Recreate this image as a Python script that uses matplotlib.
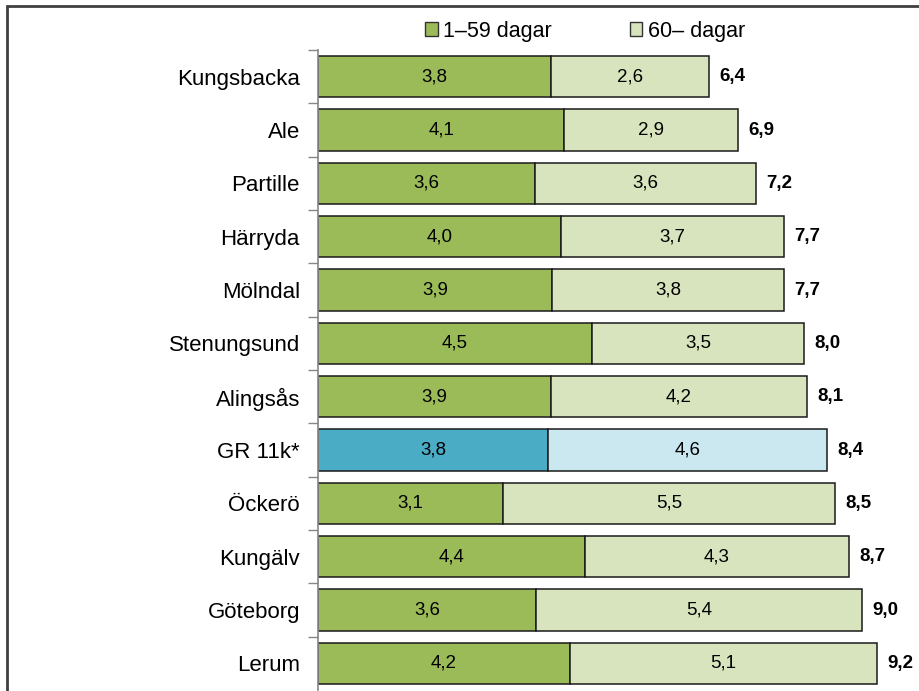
import numpy as np
import matplotlib.pyplot as plt
from matplotlib.patches import Rectangle, Patch

plt.rcParams['font.family'] = ['Liberation Sans', 'DejaVu Sans']

# Data
kommuner = ["Kungsbacka", "Ale", "Partille", "Härryda", "Mölndal", "Stenungsund",
            "Alingsås", "GR 11k*", "Öckerö", "Kungälv", "Göteborg", "Lerum"]
# rounded values as printed
kort = [3.8, 4.1, 3.6, 4.0, 3.9, 4.5, 3.9, 3.8, 3.1, 4.4, 3.6, 4.2]
lang = [2.6, 2.9, 3.6, 3.7, 3.8, 3.5, 4.2, 4.6, 5.5, 4.3, 5.4, 5.1]
totalt = [6.4, 6.9, 7.2, 7.7, 7.7, 8.0, 8.1, 8.4, 8.5, 8.7, 9.0, 9.2]
# unrounded values
kort_exakt = [3.84, 4.06, 3.58, 4.01, 3.86, 4.52, 3.84, 3.79, 3.05, 4.40, 3.59, 4.15]
totalt_exakt = [6.45, 6.92, 7.22, 7.68, 7.68, 8.01, 8.06, 8.39, 8.52, 8.75, 8.97, 9.22]
serier = ["1–59 dagar", "60– dagar"]

fmt = lambda v: f"{v:.1f}".replace(".", ",")

green, lightgreen = "#9BBB59", "#D7E4BD"
blue, lightblue = "#4BACC6", "#CBE7EF"

fig = plt.figure(figsize=(9.2, 6.91), dpi=100)
W, H = 920, 691
ax = fig.add_axes([318 / W, 1 - 690 / H, 594 / W, 640 / H])

y = np.arange(len(kommuner))
lang_exakt = np.array(totalt_exakt) - np.array(kort_exakt)
c1 = [blue if k.startswith("GR") else green for k in kommuner]
c2 = [lightblue if k.startswith("GR") else lightgreen for k in kommuner]

ax.barh(y, kort_exakt, height=0.78, color=c1, edgecolor="#1a1a1a", linewidth=1.1)
ax.barh(y, lang_exakt, left=kort_exakt, height=0.78, color=c2, edgecolor="#1a1a1a", linewidth=1.1)

for i in range(len(kommuner)):
    ax.text(kort_exakt[i] / 2, y[i], fmt(kort[i]), ha="center", va="center", fontsize=13.5)
    ax.text(kort_exakt[i] + lang_exakt[i] / 2, y[i], fmt(lang[i]), ha="center", va="center",
            fontsize=13.5)
    ax.text(totalt_exakt[i] + 0.17, y[i], fmt(totalt[i]), ha="left", va="center",
            fontsize=13.5, fontweight="bold")

ax.set_xlim(0, 594 / 60.65)
ax.set_ylim(len(kommuner) - 0.5, -0.5)
ax.set_yticks(y)
ax.set_yticklabels(kommuner, fontsize=16)
ax.set_yticks(np.arange(len(kommuner)) - 0.5, minor=True)
ax.tick_params(axis="y", which="major", length=0, pad=13)
ax.tick_params(axis="y", which="minor", length=7, color="#868686", width=1)
ax.set_xticks([])
for s in ["top", "right", "bottom"]:
    ax.spines[s].set_visible(False)
ax.spines["left"].set_color("#868686")
ax.spines["left"].set_linewidth(1.2)

handles = [Patch(facecolor=green, edgecolor="#333333"),
           Patch(facecolor=lightgreen, edgecolor="#333333")]
fig.legend(handles, serier, loc="center", bbox_to_anchor=(585 / W, 1 - 31 / H),
           ncol=2, frameon=False, fontsize=15.5, handlelength=0.6, handleheight=0.6,
           handletextpad=0.25, columnspacing=3.6)

# outer frame (only top/left visible)
fig.patches.append(Rectangle((7.5 / W, -0.1), 1.2, 1.1 - 5.5 / H, transform=fig.transFigure,
                             fill=False, edgecolor="#404040", linewidth=2, clip_on=False))

fig.savefig("out.png", dpi=100)
